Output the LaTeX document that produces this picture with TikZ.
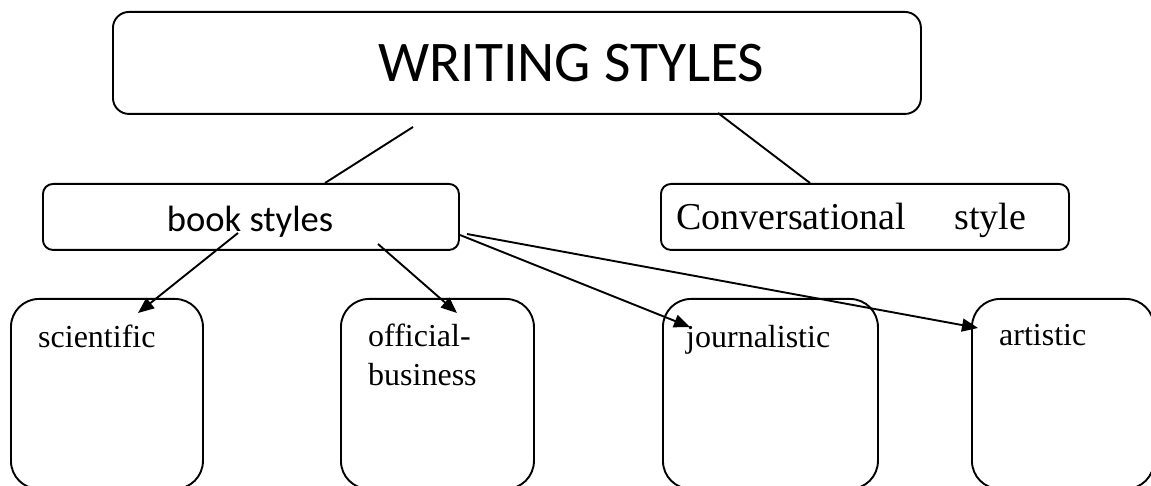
\documentclass[tikz,border=0pt]{standalone}
\usepackage{fontspec}
\setmainfont{Liberation Serif}
\newfontfamily\calibri{Carlito}
\usetikzlibrary{arrows.meta}
\begin{document}
\begin{tikzpicture}[x=1pt,y=-1pt,
  box/.style={draw, line width=1.9pt, inner sep=0pt, anchor=north west},
  bigbox/.style={box, rounded corners=28pt, minimum height=190pt},
  lbl/.style={anchor=base west, inner sep=0pt, font=\fontsize{32}{39}\selectfont},
  conn/.style={line width=1.9pt},
  arr/.style={line width=1.9pt, -{Triangle[length=16pt,width=13pt]}}]
\useasboundingbox (0,0) rectangle (1151,486);
% boxes
\node[box, rounded corners=16pt, minimum width=808pt, minimum height=102pt] (top) at (112,11) {};
\node[anchor=base west, inner sep=0pt, font=\calibri\fontsize{57.5}{60}\selectfont] (title) at (378,82) {WRITING STYLES};
\node[box, rounded corners=10pt, minimum width=416pt, minimum height=66pt] (book) at (42,183) {};
\node[anchor=base, inner sep=0pt, font=\calibri\fontsize{36.6}{40}\selectfont] (booktxt) at (250,232) {book styles};
\node[box, rounded corners=10pt, minimum width=408pt, minimum height=66pt] (conv) at (660,183) {};
\node[anchor=base west, inner sep=0pt, font=\fontsize{38}{40}\selectfont] (convtxt) at (676,230) {Conversational\hspace{48pt}style};
\node[bigbox, minimum width=192pt] (sci) at (10,298) {};
\node[bigbox, minimum width=193pt] (off) at (340,298) {};
\node[bigbox, minimum width=215pt] (jour) at (662,298) {};
\node[bigbox, minimum width=182pt] (art) at (971,298) {};
\node[lbl] (scitxt) at (38,347) {scientific};
\node[lbl] (offtxt) at (368,346) {official-};
\node[lbl] (offtxt2) at (368,385) {business};
\node[lbl] (jourtxt) at (686,347) {journalistic};
\node[lbl] (arttxt) at (999,345) {artistic};
% connector ends
\coordinate (a1) at (413,127);
\coordinate (a2) at (325,183);
\coordinate (b1) at (718,113);
\coordinate (b2) at (810,183);
\coordinate (s1) at (238,233);
\coordinate (s2) at (138,313);
\coordinate (o1) at (378,244);
\coordinate (o2) at (457,313);
\coordinate (j1) at (460,235);
\coordinate (j2) at (690,327);
\coordinate (r1) at (467,234);
\coordinate (r2) at (978,328);
\draw[conn] (a1) -- (a2);
\draw[conn] (b1) -- (b2);
\draw[arr] (s1) -- (s2);
\draw[arr] (o1) -- (o2);
\draw[arr] (j1) -- (j2);
\draw[arr] (r1) -- (r2);
\end{tikzpicture}
\end{document}
